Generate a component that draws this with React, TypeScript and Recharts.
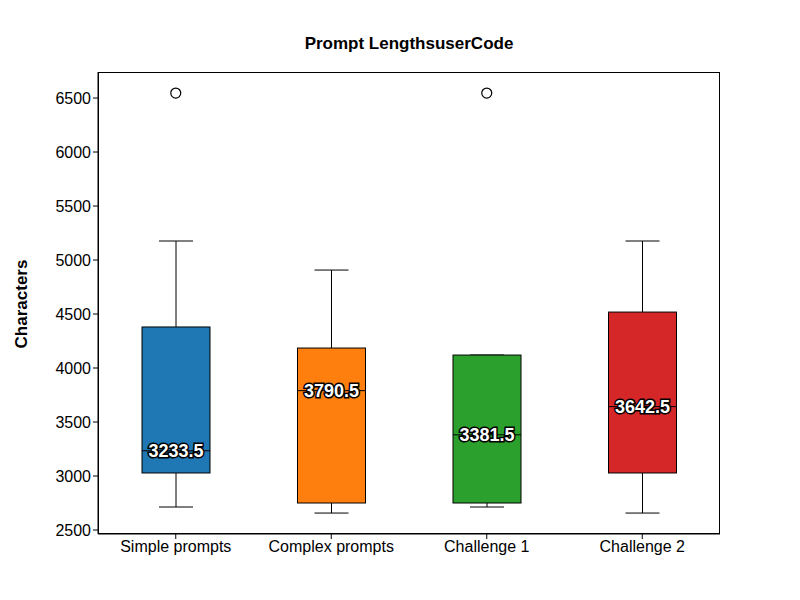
import React from 'react';
import { ComposedChart, Bar, Scatter, XAxis, YAxis } from 'recharts';

const categories = ['Simple prompts', 'Complex prompts', 'Challenge 1', 'Challenge 2'];
const lows = [2713, 2657, 2713, 2657];
const q1s = [3028, 2750, 2750, 3028];
const medians = [3233.5, 3790.5, 3381.5, 3642.5];
const q3s = [4380, 4185, 4120, 4518];
const highs = [5176, 4907, 4120, 5176];
const outliers: (number | null)[] = [6546, null, 6546, null];
const colors = ['#1f77b4', '#ff7f0e', '#2ca02c', '#d62728'];
const yTicks = [2500, 3000, 3500, 4000, 4500, 5000, 5500, 6000, 6500];

const data = categories.map((name, i) => ({
  name, range: [lows[i], highs[i]], low: lows[i], q1: q1s[i], median: medians[i], q3: q3s[i], high: highs[i], outlier: outliers[i], color: colors[i],
}));

const BoxShape = (props: any) => {
  const { x, y, width, height, payload } = props;
  const lo = payload.low, hi = payload.high;
  const span = hi - lo || 1;
  const py = (v: number) => y + height * (hi - v) / span;
  const cx = x + width / 2;
  const cap = width / 4;
  return (
    <g>
      <line x1={cx} x2={cx} y1={py(hi)} y2={py(payload.q3)} stroke="#000" />
      <line x1={cx} x2={cx} y1={py(payload.q1)} y2={py(lo)} stroke="#000" />
      <line x1={cx - cap} x2={cx + cap} y1={py(hi)} y2={py(hi)} stroke="#000" />
      <line x1={cx - cap} x2={cx + cap} y1={py(lo)} y2={py(lo)} stroke="#000" />
      <rect x={x} y={py(payload.q3)} width={width} height={py(payload.q1) - py(payload.q3)} fill={payload.color} stroke="#000" />
      <line x1={x} x2={x + width} y1={py(payload.median)} y2={py(payload.median)} stroke="#000" />
      <text x={cx} y={py(payload.median)} textAnchor="middle" dominantBaseline="central" fontSize={18} fontWeight="bold"
        fill="#fff" stroke="#000" strokeWidth={3} paintOrder="stroke" fontFamily="Liberation Sans, Arial">{payload.median}</text>
    </g>
  );
};

const Outlier = (props: any) => {
  const { cx, cy } = props;
  if (cx == null || cy == null) return <g />;
  return <circle cx={cx} cy={cy} r={5} fill="none" stroke="#000" strokeWidth={1.2} />;
};

export default function App() {
  return (
    <div style={{ position: 'absolute', left: 0, top: 0, width: 800, height: 600, background: '#fff', fontFamily: 'Liberation Sans, Arial' }}>
      <div style={{ position: 'absolute', top: 34, width: 818, textAlign: 'center', fontSize: 17, fontWeight: 'bold' }}>Prompt LengthsuserCode</div>
      <div style={{ position: 'absolute', left: 22, top: 304, transform: 'translate(-50%,-50%) rotate(-90deg)', fontSize: 17, fontWeight: 'bold', whiteSpace: 'nowrap' }}>Characters</div>
      <ComposedChart width={800} height={600} data={data} margin={{ top: 72, right: 80, bottom: 0, left: 0 }} barSize={68}>
        <XAxis dataKey="name" height={66} stroke="#000" tick={{ fill: '#000', fontSize: 16 }} tickLine={{ stroke: '#000' }} tickSize={5} />
        <YAxis width={98} domain={[2463, 6741]} ticks={yTicks} stroke="#000" tick={{ fill: '#000', fontSize: 16 }} tickSize={5} />
        <Bar dataKey="range" shape={BoxShape} isAnimationActive={false} />
        <Scatter dataKey="outlier" shape={Outlier} isAnimationActive={false} />
      </ComposedChart>
      <div style={{ position: 'absolute', left: 98, top: 72, width: 622, height: 462, border: '1px solid #000', boxSizing: 'border-box', pointerEvents: 'none' }} />
    </div>
  );
}
